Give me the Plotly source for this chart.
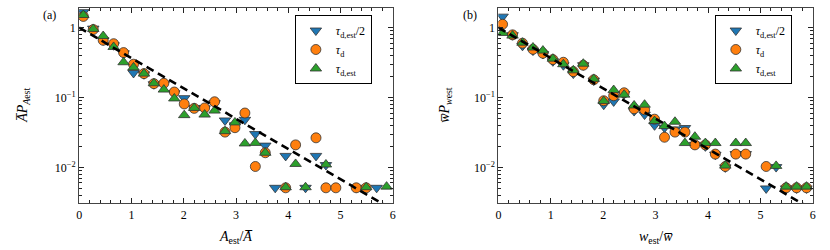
import plotly.graph_objects as go

# bin centres
x_bins = [0.08, 0.27, 0.46, 0.66, 0.85, 1.04, 1.24, 1.43, 1.62, 1.82, 2.01, 2.20, 2.40,
          2.59, 2.79, 2.98, 3.17, 3.37, 3.56, 3.75, 3.95, 4.14, 4.33, 4.53, 4.72, 4.91,
          5.11, 5.30, 5.49, 5.69, 5.88]

# panel (a): amplitude
a_half = [1.67, 0.97, 0.66, 0.56, 0.43, 0.225, 0.215, 0.155, 0.155, 0.115, 0.098, 0.071,
          0.070, 0.083, 0.047, 0.040, 0.048, 0.030, 0.0205, 0.0051, 0.0146, None, 0.0051,
          0.0146, 0.0108, None, None, 0.0051, None, 0.0051, None]
a_td = [1.45, 0.94, 0.66, 0.59, 0.44, 0.30, 0.22, 0.158, 0.16, 0.12, 0.081, 0.070,
        0.071, 0.087, 0.032, 0.037, 0.060, 0.0103, 0.0162, None, 0.0051, 0.021, None,
        0.0265, 0.0051, 0.0051, None, 0.0051, 0.0051, None, None]
a_est = [1.52, 0.96, 0.76, 0.53, 0.32, 0.27, 0.22, 0.16, 0.13, 0.097, 0.056, 0.071,
         0.057, 0.065, 0.033, 0.044, 0.022, 0.0224, 0.0162, None, 0.0052, 0.0112, 0.0052,
         None, 0.011, None, None, None, 0.0052, None, 0.0053]

# panel (b): duration
w_half = [1.44, 0.78, 0.55, 0.47, 0.42, 0.33, 0.29, 0.22, 0.29, 0.175, 0.079, 0.088,
          0.112, 0.064, 0.057, 0.040, 0.037, 0.035, 0.0366, 0.021, 0.020, 0.0152, 0.0100,
          0.0155, 0.0155, None, 0.0050, 0.0101, 0.0050, 0.0050, 0.0050]
w_td = [1.12, 0.79, 0.60, 0.49, 0.43, 0.35, 0.32, 0.235, 0.29, 0.18, 0.090, 0.106,
        0.117, 0.069, 0.067, 0.049, 0.027, 0.032, 0.032, 0.021, 0.021, 0.0155, 0.0103,
        0.0155, 0.0155, None, 0.0103, None, 0.0051, 0.0051, 0.0051]
w_est = [0.84, 0.77, 0.61, 0.52, 0.47, 0.36, 0.30, 0.245, 0.305, 0.185, 0.089, 0.128,
         0.110, 0.077, 0.079, 0.046, 0.039, 0.045, 0.0223, 0.0275, 0.0223, 0.0223, 0.0106,
         0.0223, 0.0223, None, None, 0.0105, 0.0053, 0.0053, 0.0053]

# reference exponential exp(-x)
ref_x = [0.0, 0.5, 1.0, 1.5, 2.0, 2.5, 3.0, 3.5, 4.0, 4.5, 5.0, 5.5, 6.0]
ref_y = [1.0, 0.6065, 0.3679, 0.2231, 0.1353, 0.0821, 0.0498, 0.0302, 0.0183, 0.0111,
         0.00674, 0.00409, 0.00248]

labels = ["<i>τ</i><sub>d,est</sub>/2", "<i>τ</i><sub>d</sub>", "<i>τ</i><sub>d,est</sub>"]
colors = ["#1f77b4", "#ff7f0e", "#2ca02c"]
symbols = ["triangle-down", "circle", "triangle-up"]

FONT = "Liberation Serif"
W, H = 830, 250
T, B = 8, 47
PH = H - T - B


def py(v):
    """screen pixel row -> paper y"""
    return (H - B - v) / PH


fig = go.Figure()

panels = [(a_half, a_td, a_est, "x", "y", "legend"),
          (w_half, w_td, w_est, "x2", "y2", "legend2")]
for p in panels:
    series, xa, ya, lg = p[:3], p[3], p[4], p[5]
    for vals, lab, col, sym in zip(series, labels, colors, symbols):
        fig.add_trace(go.Scatter(
            x=x_bins, y=vals, mode="markers", name=lab, xaxis=xa, yaxis=ya, legend=lg,
            marker=dict(symbol=sym, size=10, color=col,
                        line=dict(color="#333333", width=0.8))))
    fig.add_trace(go.Scatter(x=ref_x, y=ref_y, mode="lines", xaxis=xa, yaxis=ya,
                             showlegend=False, line=dict(color="black", width=2.6, dash="8px,5px")))

minor_y = [m * 10 ** e for e in (-3, -2, -1, 0) for m in range(2, 10)]
common_x = dict(range=[0, 6], dtick=1, tick0=0, ticks="inside", ticklen=5, tickwidth=1,
                mirror="ticks", showline=True, linecolor="#444444", linewidth=1.2,
                showgrid=False, zeroline=False, tickcolor="#222222",
                minor=dict(dtick=0.2, ticks="inside", ticklen=2.5, tickcolor="#222222", showgrid=False),
                tickfont=dict(family=FONT, size=12, color="black"))
common_y = dict(type="log", range=[-2.51, 0.282], tickvals=[0.01, 0.1, 1],
                ticktext=["10<sup>−2</sup>", "10<sup>−1</sup>", "1"],
                ticks="inside", ticklen=5, tickwidth=1, mirror="ticks", showline=True,
                linecolor="#444444", linewidth=1.2, showgrid=False, zeroline=False,
                tickcolor="#222222",
                minor=dict(tickvals=minor_y, ticks="inside", ticklen=2.5, tickcolor="#222222", showgrid=False),
                tickfont=dict(family=FONT, size=12, color="black"))

legend_style = dict(bgcolor="white", bordercolor="black", borderwidth=1,
                    font=dict(family=FONT, size=12, color="black"),
                    xanchor="left", yanchor="top", tracegroupgap=0)

ann_font = dict(family=FONT, size=14, color="black")
common_ann = dict(xref="paper", yref="paper", showarrow=False, xanchor="center", yanchor="middle")
fig.update_layout(
    width=W, height=H, margin=dict(l=0, r=0, t=T, b=B),
    paper_bgcolor="white", plot_bgcolor="white",
    xaxis=dict(domain=[76.7 / W, 392.7 / W], anchor="y", **common_x),
    yaxis=dict(domain=[0, 1], anchor="x", **common_y),
    xaxis2=dict(domain=[499 / W, 815.7 / W], anchor="y2", **common_x),
    yaxis2=dict(domain=[0, 1], anchor="x2", **common_y),
    legend=dict(x=294 / W, y=py(15), **legend_style),
    legend2=dict(x=717 / W, y=py(15), **legend_style),
    annotations=[
        dict(text="(a)", x=47 / W, y=py(15), font=dict(family=FONT, size=12, color="black"), **common_ann),
        dict(text="(b)", x=470 / W, y=py(15), font=dict(family=FONT, size=12, color="black"), **common_ann),
        dict(text="<i>A</i><sub>est</sub>/<i>A̅</i>", x=234.7 / W, y=py(237), font=ann_font, **common_ann),
        dict(text="<i>w</i><sub>est</sub>/<i>w̅</i>", x=657.3 / W, y=py(237), font=ann_font, **common_ann),
        dict(text="<i>A̅P</i><sub><i>A</i>est</sub>", x=20 / W, y=py(105), textangle=-90,
             font=ann_font, **common_ann),
        dict(text="<i>w̅P</i><sub><i>w</i>est</sub>", x=445 / W, y=py(105), textangle=-90,
             font=ann_font, **common_ann),
    ],
)

fig.write_html("out.html", config={"displayModeBar": False},
               post_script="document.body.style.margin='0px';")
